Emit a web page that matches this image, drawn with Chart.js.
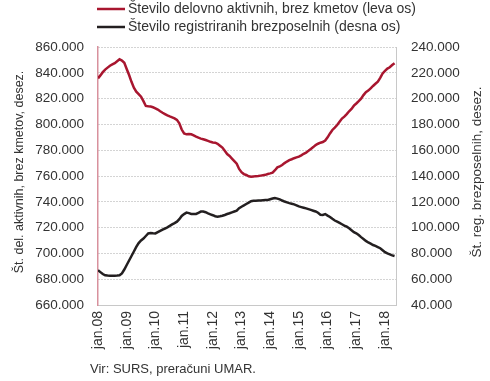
<!DOCTYPE html>
<html>
<head>
<meta charset="utf-8">
<script src="https://cdn.jsdelivr.net/npm/chart.js@4.4.1/dist/chart.umd.min.js"></script>
<style>
  html, body { margin: 0; padding: 0; background: #fff; }
  #wrap { width: 490px; height: 381px; position: relative; }
</style>
</head>
<body>
<div id="wrap"><canvas id="c" width="490" height="381"></canvas></div>
<script>
// Monthly, jan.2008 .. may.2018 (index 0 = jan.08)
const years = ['08','09','10','11','12','13','14','15','16','17','18'];
const leftTicks = [660000, 680000, 700000, 720000, 740000, 760000, 780000, 800000, 820000, 840000, 860000];
const rightTicks = [40000, 60000, 80000, 100000, 120000, 140000, 160000, 180000, 200000, 220000, 240000];

const seriesNames = ['Število delovno aktivnih, brez kmetov (leva os)', 'Število registriranih brezposelnih (desna os)'];
const leftTitle = 'Št. del. aktivnih, brez kmetov, desez.';
const rightTitle = 'Št. reg. brezposelnih, desez.';
const sourceNote = 'Vir: SURS, preračuni UMAR.';

// thousands
const employed = [
  835.7, 838, 840.5, 842.5, 844, 845.5, 846.5, 847.5, 849, 850.5, 849.5, 847.8,
  843, 838.3, 833, 828.5, 825.4, 823.5, 821.5, 818, 814.3, 814, 813.8, 813.3,
  812.5, 811.5, 810.2, 809, 808, 807, 806.2, 805.5, 804.7, 803.5, 800.9, 796,
  793, 792.3, 792.5, 792.3, 791.5, 790.5, 789.7, 789, 788.5, 787.9, 787.2, 786.5,
  786, 785.8, 785, 783.5, 782, 779.5, 777, 775.5, 773.5, 771.5, 769.5, 765.5,
  763, 761.5, 760.8, 759.8, 759.5, 759.7, 759.9, 760, 760.3, 760.6, 760.9, 761.5,
  762, 762.6, 764.5, 766.7, 767.5, 768.5, 770, 771.2, 772.3, 773, 773.8, 774.4,
  775, 776, 777.2, 778.1, 779.5, 781, 782.4, 784, 785, 785.8, 786.3, 787.5,
  790, 793, 795.7, 797.5, 799.5, 802, 804.5, 806, 808, 810.2, 812, 814.5,
  816.2, 818, 820, 822.7, 825, 826.2, 828, 829.8, 831.5, 833.1, 836, 839.5,
  841.5, 843.3, 844.3, 846, 847.4
];
const unemployed = [
  67, 65.5, 64, 63, 62.8, 62.7, 62.7, 62.7, 62.8, 63, 64.5, 67.5,
  71, 74.5, 78, 81.5, 85, 88, 90, 91.5, 93.5, 95.5, 95.8, 95.6,
  95.5, 96.5, 97.5, 98.5, 99.3, 100.2, 101.3, 102.5, 103.5, 104.6, 106.5, 109,
  110.5, 111.6, 111.2, 110.6, 110.6, 110.6, 111.5, 112.4, 112.4, 111.9, 111, 110.3,
  109.6, 108.8, 108.5, 108.8, 109.2, 109.8, 110.5, 111.1, 111.8, 112.5, 113.1, 115,
  116.2, 117.2, 118.3, 119.4, 120.5, 120.8, 120.9, 121, 121.1, 121.2, 121.3, 121.4,
  122, 122.5, 123, 122.5, 121.9, 121, 120.2, 119.6, 119, 118.5, 118, 117.3,
  116.4, 115.9, 115.4, 114.9, 114.3, 113.7, 113.1, 112.5, 111.5, 110, 109.8, 110.5,
  109.3, 108.2, 106.8, 105.5, 104.6, 103.6, 102.6, 101.6, 100.7, 99.5, 98, 96.5,
  95.6, 94.2, 92.6, 91.2, 89.7, 88.5, 87.5, 86.5, 85.8, 84.9, 84, 82.5,
  81, 80, 79.3, 78.5, 78
];

const RED = '#a8162f';
const BLACK = '#231f20';
const TEXT = '#333333';
const FONT = '"Liberation Sans", Arial, sans-serif';

const fmt = v => {
  const s = Math.round(v).toString();
  return s.replace(/\B(?=(\d{3})+(?!\d))/g, '.');
};

const ptsLeft = employed.map((v, i) => ({ x: i, y: v * 1000 }));
const ptsRight = unemployed.map((v, i) => ({ x: i, y: v * 1000 }));

const decor = {
  id: 'decor',
  afterDraw(chart) {
    const ctx = chart.ctx;
    const area = chart.chartArea;
    ctx.save();
    ctx.fillStyle = TEXT;
    ctx.font = '14px ' + FONT;
    ctx.textBaseline = 'middle';
    // legend
    const lx = 97, ly = [9, 27];
    [RED, BLACK].forEach((col, k) => {
      ctx.strokeStyle = col;
      ctx.lineWidth = 2.5;
      ctx.beginPath();
      ctx.moveTo(lx, ly[k]);
      ctx.lineTo(lx + 28, ly[k]);
      ctx.stroke();
      ctx.textAlign = 'left';
      ctx.fillText(seriesNames[k], lx + 31, ly[k]);
    });
    // axis titles
    const cy = (area.top + area.bottom) / 2 - 4;
    ctx.font = '12.5px ' + FONT;
    ctx.textAlign = 'center';
    ctx.save();
    ctx.translate(20, cy);
    ctx.rotate(-Math.PI / 2);
    ctx.fillText(leftTitle, 0, 0);
    ctx.restore();
    ctx.font = '13.5px ' + FONT;
    ctx.save();
    ctx.translate(477, cy);
    ctx.rotate(-Math.PI / 2);
    ctx.fillText(rightTitle, 0, 0);
    ctx.restore();
    // source
    ctx.font = '13px ' + FONT;
    ctx.textAlign = 'left';
    ctx.fillText(sourceNote, 90, 369);
    ctx.restore();
  }
};

new Chart(document.getElementById('c'), {
  type: 'line',
  data: {
    datasets: [
      { label: seriesNames[0], data: ptsLeft, yAxisID: 'yL', borderColor: RED, borderWidth: 2.5, pointRadius: 0, tension: 0, fill: false },
      { label: seriesNames[1], data: ptsRight, yAxisID: 'yR', borderColor: BLACK, borderWidth: 2.5, pointRadius: 0, tension: 0, fill: false }
    ]
  },
  options: {
    responsive: false,
    animation: false,
    layout: { padding: { top: 47, right: 0, left: 0, bottom: 0 } },
    plugins: { legend: { display: false }, tooltip: { enabled: false } },
    scales: {
      x: {
        type: 'linear',
        min: 0,
        max: 124.6,
        afterBuildTicks(scale) {
          scale.ticks = years.map((y, i) => ({ value: i * 12 }));
        },
        afterFit(scale) { scale.height = 76; },
        ticks: {
          autoSkip: false,
          minRotation: 90, maxRotation: 90,
          padding: 6,
          color: TEXT,
          font: { family: FONT, size: 14 },
          callback: (v) => 'jan.' + years[Math.round(v / 12)]
        },
        grid: { display: false, drawTicks: false },
        border: { display: true, color: '#c8c8c8', width: 1 }
      },
      yL: {
        position: 'left',
        min: 660000, max: 860000,
        afterBuildTicks(scale) { scale.ticks = leftTicks.map(v => ({ value: v })); },
        afterFit(scale) { scale.width = 98; },
        ticks: { color: TEXT, padding: 14, font: { family: FONT, size: 13.5 }, callback: v => fmt(v) },
        grid: { color: '#a8a8a8', lineWidth: 1, drawTicks: false },
        border: { display: true, color: '#d8919d', width: 1.5, dash: [1, 2] }
      },
      yR: {
        position: 'right',
        min: 40000, max: 240000,
        afterBuildTicks(scale) { scale.ticks = rightTicks.map(v => ({ value: v })); },
        afterFit(scale) { scale.width = 94; },
        ticks: { color: TEXT, padding: 15, font: { family: FONT, size: 13.5 }, callback: v => fmt(v) },
        grid: { display: false, drawTicks: false },
        border: { display: true, color: '#c8c8c8', width: 1 }
      }
    }
  },
  plugins: [decor]
});
</script>
</body>
</html>
